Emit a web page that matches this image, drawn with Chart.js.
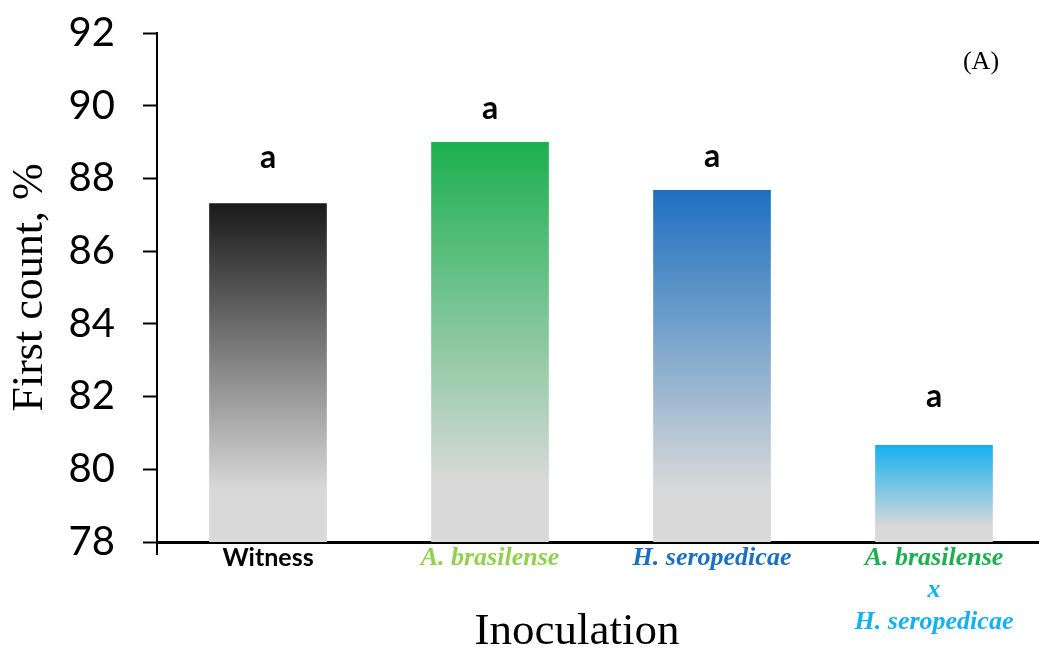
<!DOCTYPE html>
<html>
<head>
<meta charset="utf-8">
<script src="https://cdn.jsdelivr.net/npm/chart.js@4/dist/chart.umd.min.js"></script>
<style>
  html, body { margin: 0; padding: 0; background: #fff; overflow: hidden; }
  #wrap { width: 1045px; height: 650px; position: relative; }
</style>
</head>
<body>
<div id="wrap"><canvas id="c"></canvas></div>
<script>
// ---- data ----
const categories = ["Witness", "A. brasilense", "H. seropedicae", "A. brasilense x H. seropedicae"];
const firstCount = [87.32, 89.0, 87.68, 80.67];
const significanceLetters = ["a", "a", "a", "a"];
const yTicks = [78, 80, 82, 84, 86, 88, 90, 92];
const panelLabel = "(A)";
const yTitle = "First count, %";
const xTitle = "Inoculation";

// ---- styles ----
const topColors = ["#1a1a1a", "#1bb04f", "#1c70c0", "#14b1f0"];
const bottomGray = "#d9d9d9";
const geoBold = "bold 25px Lato, 'DejaVu Sans', sans-serif";
const serifBI = "italic bold 26px 'Liberation Serif', 'Times New Roman', serif";
const tickLabelLines = [
  [["Witness", "#000000", geoBold]],
  [["A. brasilense", "#92d050", serifBI]],
  [["H. seropedicae", "#1c70c0", serifBI]],
  [["A. brasilense", "#1bb04f", serifBI], ["x", "#14b1f0", serifBI], ["H. seropedicae", "#14b1f0", serifBI]]
];
const letterOffsets = [45, 33, 33, 48];

const annotatePlugin = {
  id: "annotate",
  afterDraw(chart) {
    const ctx = chart.ctx;
    const xs = chart.scales.x, ys = chart.scales.y;
    const area = chart.chartArea;
    ctx.save();
    // small extension of y axis below x axis
    ctx.strokeStyle = "#000"; ctx.lineWidth = 2;
    ctx.beginPath(); ctx.moveTo(area.left, area.bottom); ctx.lineTo(area.left, area.bottom + 13); ctx.stroke();
    // x tick labels
    ctx.textAlign = "center"; ctx.textBaseline = "middle";
    tickLabelLines.forEach((lines, i) => {
      const x = xs.getPixelForValue(i);
      lines.forEach((ln, j) => {
        ctx.font = ln[2]; ctx.fillStyle = ln[1];
        ctx.fillText(ln[0], x, area.bottom + 16 + j * 32);
      });
    });
    // x axis title
    ctx.font = "45px 'Liberation Serif', 'Times New Roman', serif";
    ctx.fillStyle = "#000";
    ctx.fillText(xTitle, (area.left + area.right) / 2 - 24, 632);
    // significance letters
    ctx.font = "bold 32px Lato, 'DejaVu Sans', sans-serif";
    firstCount.forEach((v, i) => {
      const x = xs.getPixelForValue(i);
      const y = ys.getPixelForValue(v) - letterOffsets[i];
      ctx.fillText(significanceLetters[i], x, y);
    });
    // panel label
    ctx.font = "26px 'Liberation Serif', 'Times New Roman', serif";
    ctx.fillText(panelLabel, 981, 62);
    ctx.restore();
  }
};

new Chart(document.getElementById("c"), {
  type: "bar",
  data: {
    labels: categories,
    datasets: [{
      data: firstCount,
      barPercentage: 0.53,
      categoryPercentage: 1.0,
      borderWidth: 0,
      backgroundColor: (c) => {
        const chart = c.chart;
        const area = chart.chartArea;
        const i = c.dataIndex;
        if (!area || !chart.scales.y || i === undefined) return topColors[i] || "#888";
        const yTop = chart.scales.y.getPixelForValue(firstCount[i]);
        const g = chart.ctx.createLinearGradient(0, yTop, 0, area.bottom);
        g.addColorStop(0, topColors[i]);
        g.addColorStop(0.85, bottomGray);
        g.addColorStop(1, bottomGray);
        return g;
      }
    }]
  },
  options: {
    responsive: true,
    maintainAspectRatio: false,
    animation: false,
    layout: { padding: { left: 0, right: 0, top: 33, bottom: 0 } },
    plugins: { legend: { display: false }, tooltip: { enabled: false } },
    scales: {
      x: {
        grid: { display: false, drawTicks: false },
        border: { display: true, color: "#000", width: 3 },
        ticks: { display: false },
        afterFit: (s) => { s.height = 108; s.paddingLeft = 0; s.paddingRight = 0; }
      },
      y: {
        min: 78, max: 92,
        afterBuildTicks: (s) => { s.ticks = yTicks.map(v => ({ value: v })); },
        afterFit: (s) => { s.width = 157; s.paddingTop = 0; s.paddingBottom = 0; },
        grid: { display: true, drawOnChartArea: false, drawTicks: true, tickLength: 14, tickWidth: 2, tickColor: "#000" },
        border: { display: true, color: "#000", width: 2 },
        ticks: {
          color: "#000", padding: 28,
          font: { family: "Lato, 'DejaVu Sans', sans-serif", size: 40 }
        },
        title: {
          display: true, text: yTitle, color: "#000",
          font: { family: "'Liberation Serif', 'Times New Roman', serif", size: 44 },
          padding: { top: 4, bottom: 0 }
        }
      }
    }
  },
  plugins: [annotatePlugin]
});
</script>
</body>
</html>
